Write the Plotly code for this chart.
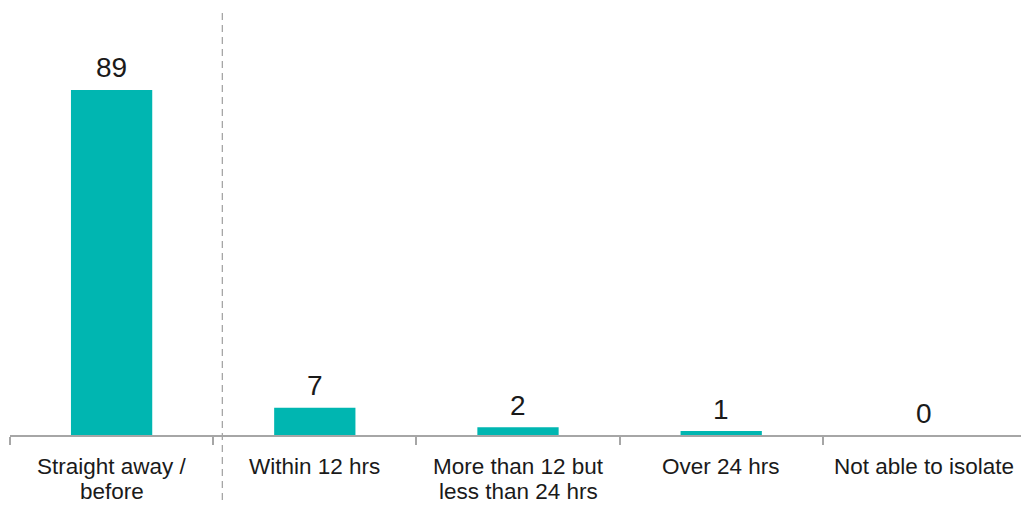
import plotly.graph_objects as go

categories = ["Straight away /<br>before", "Within 12 hrs", "More than 12 but<br>less than 24 hrs", "Over 24 hrs", "Not able to isolate"]
values = [89, 7, 2, 1, 0]
value_labels = ["89", "7", "2", "1", "0"]

FONT = "Liberation Sans, Arial, sans-serif"
TXT = "#1a1a1a"

fig = go.Figure()
fig.add_trace(go.Bar(
    x=list(range(len(categories))), y=values,
    marker=dict(color="#00B6B1", line=dict(width=0)),
    width=0.4, cliponaxis=False, hoverinfo="skip",
))

# data labels
for i, (v, t) in enumerate(zip(values, value_labels)):
    fig.add_annotation(x=i, y=v, xref="x", yref="y", text=t, showarrow=False,
                       yanchor="middle", yshift=22,
                       font=dict(family=FONT, size=28, color=TXT))

# category labels (tight line spacing)
for i, c in enumerate(categories):
    for j, line in enumerate(c.split("<br>")):
        fig.add_annotation(x=i, y=0, xref="x", yref="paper", text=line, showarrow=False,
                           yanchor="middle", yshift=-31 - 25 * j,
                           font=dict(family=FONT, size=22.5, color=TXT))

fig.add_shape(type="line", xref="x", yref="paper", x0=0.545, x1=0.545, y0=-0.153, y1=0.995,
              line=dict(color="#A6A6A6", width=1.3, dash="7px,5px"))

fig.update_layout(
    width=1021, height=497,
    margin=dict(l=2, r=3, t=2, b=70),
    paper_bgcolor="white", plot_bgcolor="white",
    showlegend=False,
    font=dict(family=FONT, size=20, color=TXT),
    xaxis=dict(range=[-0.5, 4.5], showline=True, linecolor="#A6A6A6", linewidth=1.5,
               tickmode="array", tickvals=[-0.5, 0.5, 1.5, 2.5, 3.5, 4.5], showticklabels=False,
               ticks="outside", ticklen=8, tickcolor="#A6A6A6", tickwidth=1.5,
               showgrid=False, zeroline=False, automargin=False),
    yaxis=dict(range=[0, 109.6], visible=False, showgrid=False, automargin=False),
)

fig.write_html("out.html")
